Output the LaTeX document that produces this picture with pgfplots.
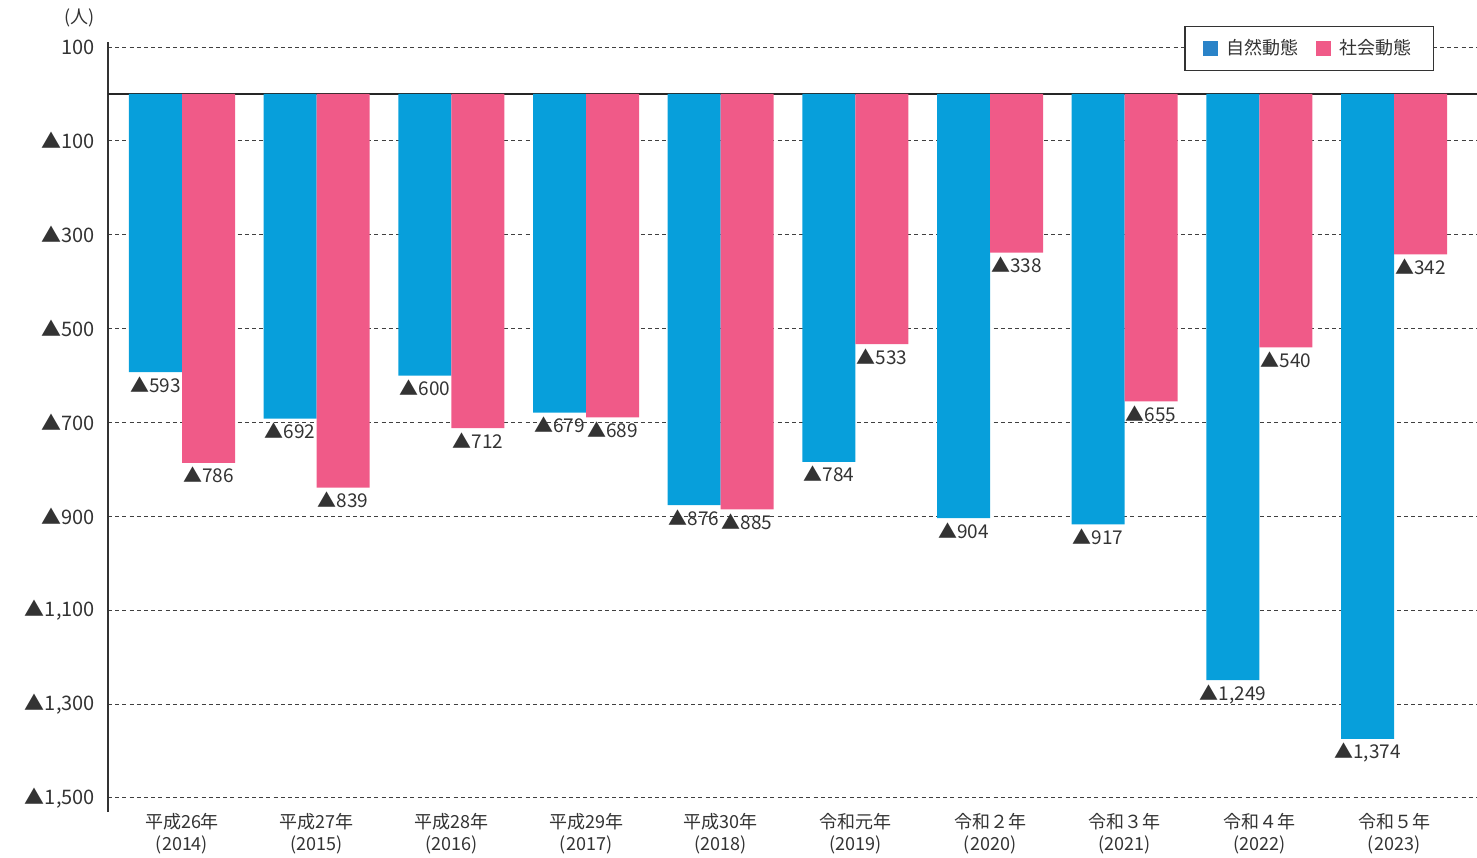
\documentclass[border=0pt]{standalone}
\usepackage{pgfplots}
\pgfplotsset{compat=1.18}
\usepackage{fontspec}
\setmainfont{Noto Sans CJK JP}
\definecolor{cblue}{HTML}{079FDB}
\definecolor{cpink}{HTML}{F05A88}
\definecolor{lblue}{HTML}{2A83C8}
\definecolor{tgray}{HTML}{333333}
\begin{document}
\begin{tikzpicture}
\path[use as bounding box] (0,0) rectangle (738.5pt,428.5pt);
\begin{axis}[
  at={(54pt,22.5pt)}, anchor=south west,
  scale only axis, width=684.5pt, height=385pt,
  ybar=0pt, bar width=0.3936,
  xmin=-0.5495, xmax=9.616,
  ymin=-1530, ymax=110.6,
  clip=false,
  axis lines*=left,
  x axis line style={draw=none},
  y axis line style={-, draw=black!80, line width=0.9pt},
  xtick={0,...,9},
  xticklabels={{平成26年\\(2014)},{平成27年\\(2015)},{平成28年\\(2016)},{平成29年\\(2017)},{平成30年\\(2018)},{令和元年\\(2019)},{令和２年\\(2020)},{令和３年\\(2021)},{令和４年\\(2022)},{令和５年\\(2023)}},
  xticklabel style={align=center, font=\fontsize{9}{11}\selectfont, text=tgray, yshift=3pt},
  ytick={100,-100,-300,-500,-700,-900,-1100,-1300,-1500},
  yticklabels={100,▲100,▲300,▲500,▲700,▲900,{▲1,100},{▲1,300},{▲1,500}},
  yticklabel style={font=\fontsize{10}{11}\selectfont, text=tgray, xshift=-3pt},
  major tick length=0pt,
  ymajorgrids,
  major grid style={dashed, dash pattern=on 2pt off 1.6pt, draw=black!75, line width=0.45pt},
  extra y ticks={0},
  extra y tick labels={},
  extra y tick style={grid=major, major grid style={solid, draw=black!85, line width=0.9pt}},
  /pgf/number format/assume math mode=true,
  /pgf/number format/1000 sep={,},
  point meta=explicit,
  nodes near coords={▲\pgfmathprintnumber{\pgfplotspointmeta}},
  every node near coord/.append style={font=\fontsize{9.5}{10}\selectfont, text=tgray, inner sep=1.5pt, yshift=-0.5pt, anchor=north},
  legend columns=2,
  legend style={at={(0.9686,1.0208)}, anchor=north east, draw=black!80, line width=0.6pt,
    font=\fontsize{9}{10}\selectfont, text=tgray, inner xsep=9pt, inner ysep=4.5pt,
    /tikz/every even column/.append style={column sep=7pt},
    /tikz/every odd column/.append style={column sep=2pt}},
]
\addplot[fill=cblue, draw=none, forget plot, bar shift=-0.1968] coordinates {
(0,-593) [593] (1,-692) [692] (2,-600) [600] (3,-679) [679] (4,-876) [876]
(5,-784) [784] (6,-904) [904] (7,-917) [917] (8,-1249) [1249] (9,-1374) [1374]};
\addplot[fill=cpink, draw=none, forget plot, bar shift=0.1968] coordinates {
(0,-786) [786] (1,-839) [839] (2,-712) [712] (3,-689) [689] (4,-885) [885]
(5,-533) [533] (6,-338) [338] (7,-655) [655] (8,-540) [540] (9,-342) [342]};
\addlegendimage{legend image code/.code={\fill[lblue] (0pt,-3.5pt) rectangle (7pt,3.5pt);}}
\addlegendentry{自然動態}
\addlegendimage{legend image code/.code={\fill[cpink] (0pt,-3.5pt) rectangle (7pt,3.5pt);}}
\addlegendentry{社会動態}
\node[anchor=center, font=\fontsize{9}{10}\selectfont, text=tgray] at (rel axis cs:-0.0205,1.031) {(人)};
\end{axis}
\end{tikzpicture}
\end{document}
